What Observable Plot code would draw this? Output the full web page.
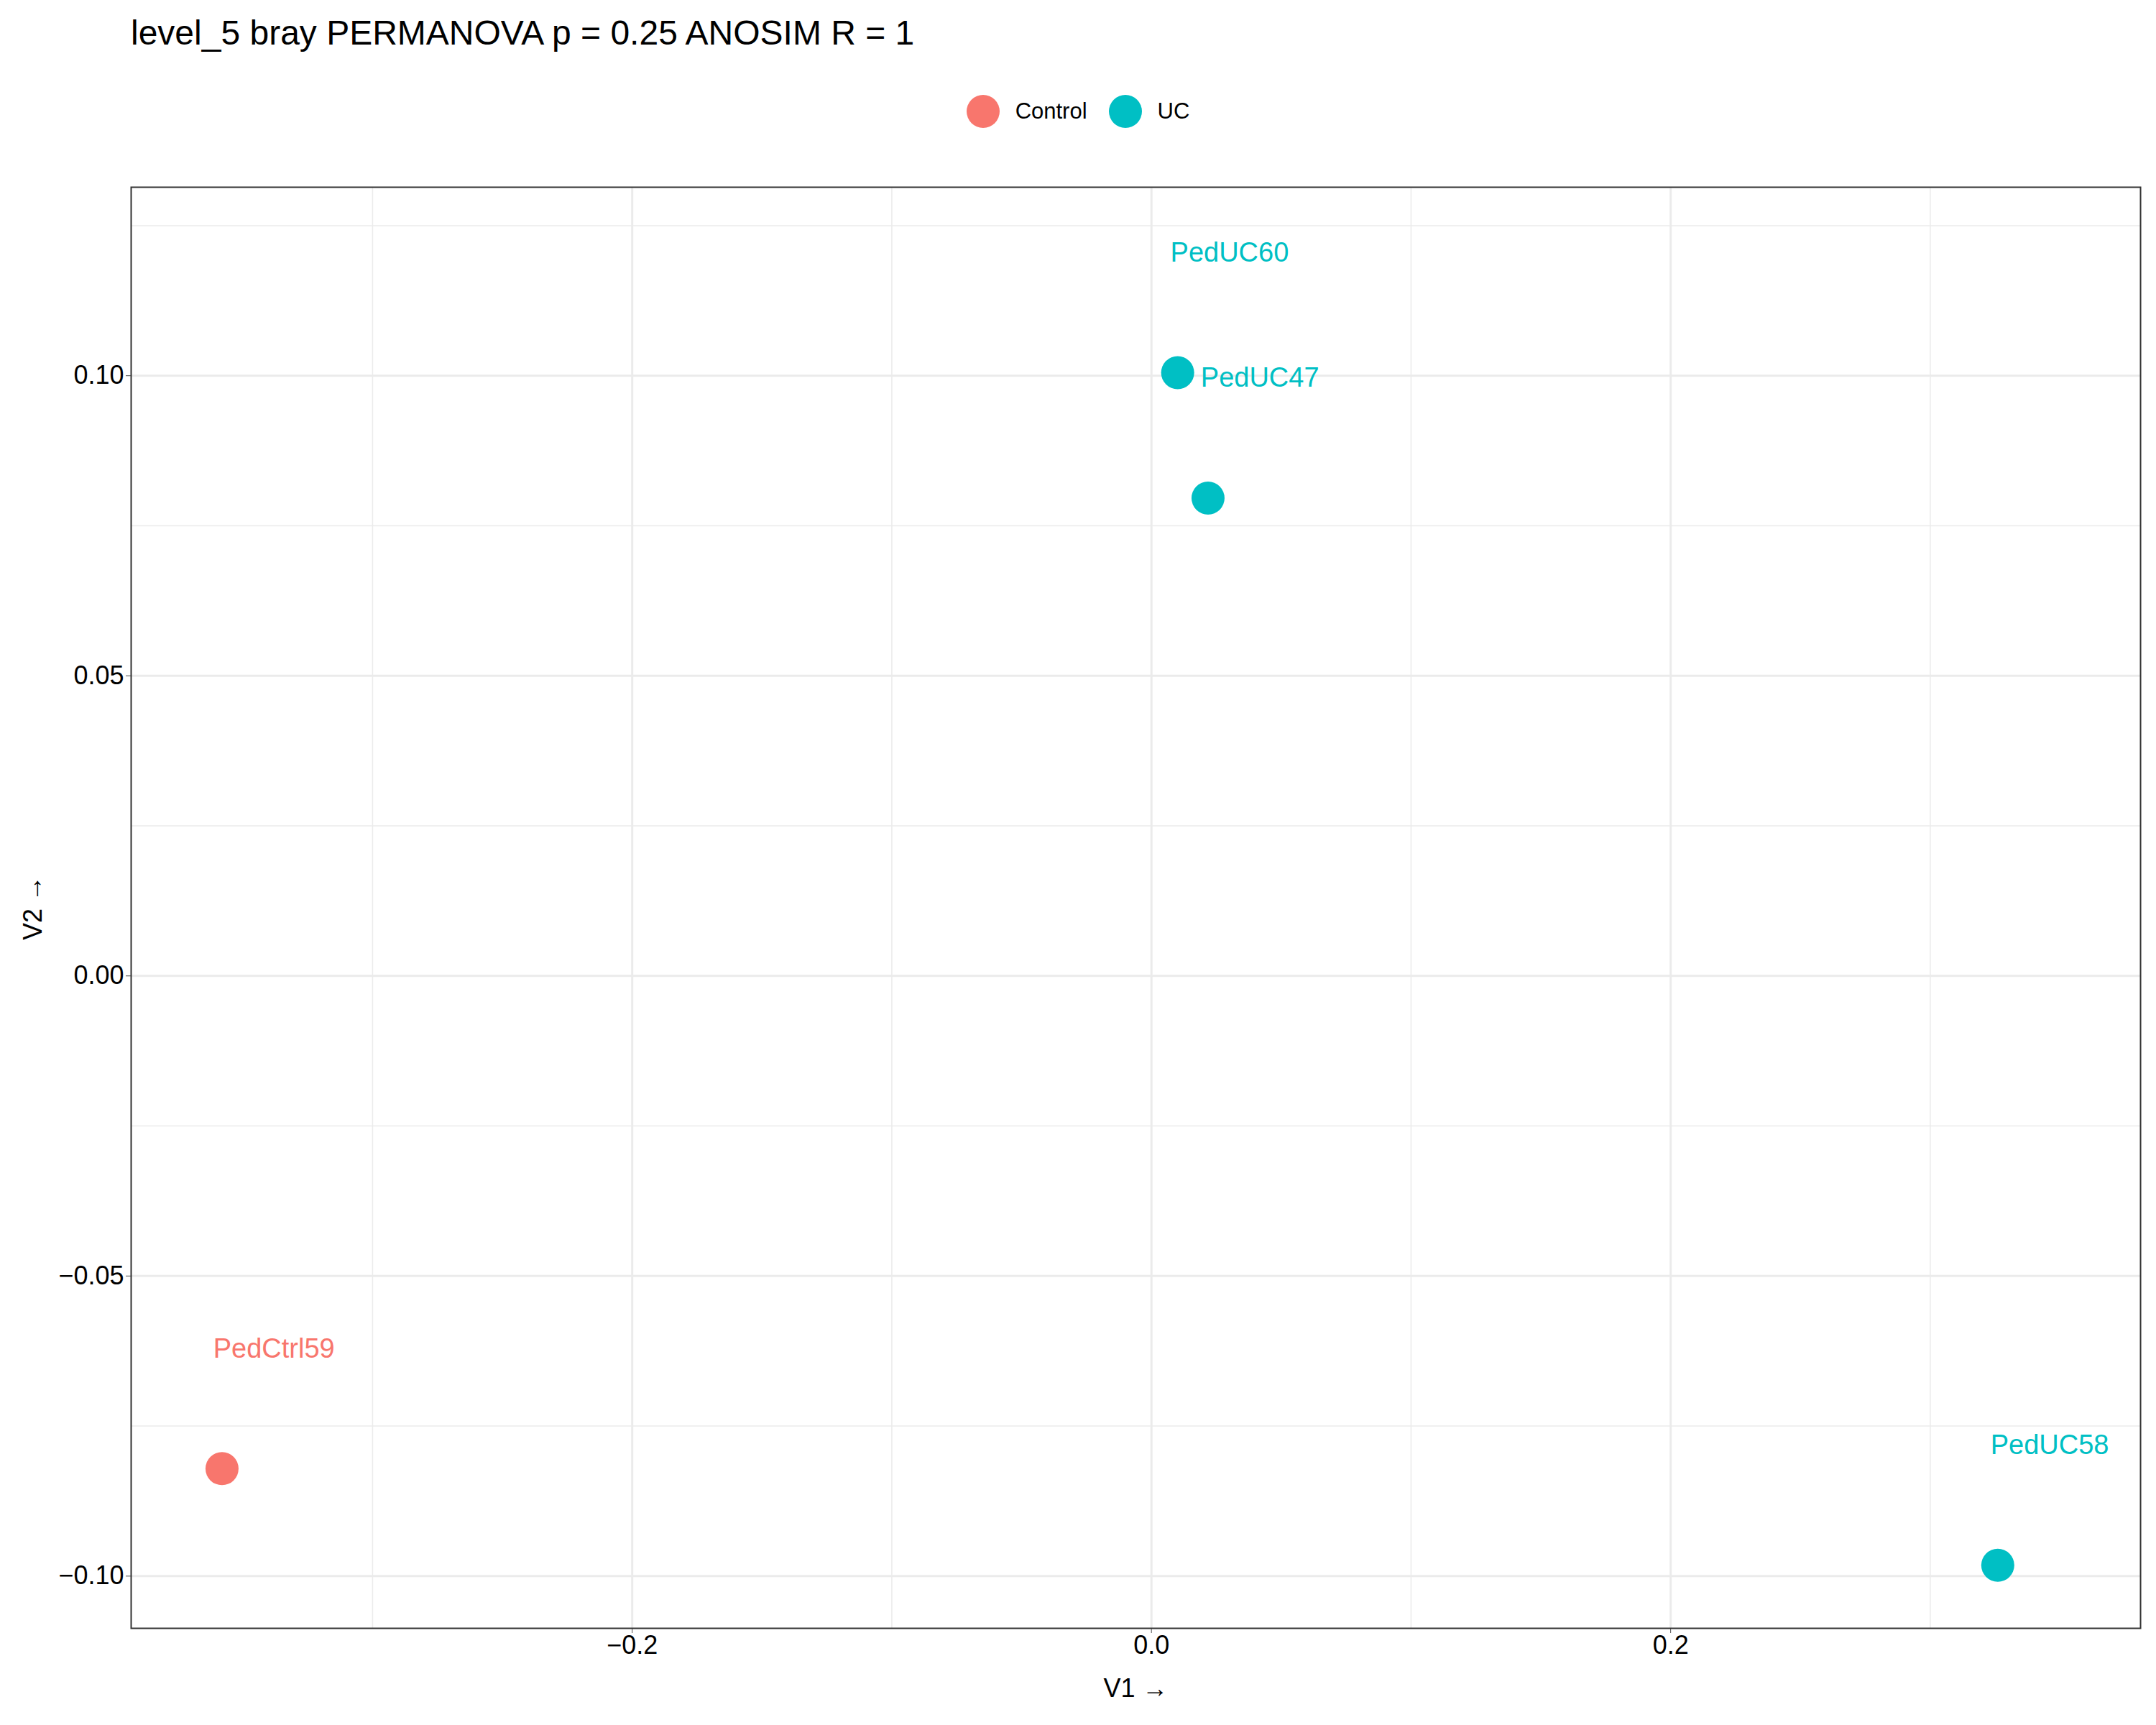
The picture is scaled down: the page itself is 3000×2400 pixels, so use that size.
<!DOCTYPE html>
<html>
<head>
<meta charset="utf-8">
<script src="https://cdn.jsdelivr.net/npm/d3@7"></script>
<script src="https://cdn.jsdelivr.net/npm/@observablehq/plot@0.6"></script>
<style>
body { margin: 0; background: white; font-family: "Liberation Sans", Arial, sans-serif; }
#wrap { width: 3000px; height: 2400px; position: relative; }
#title { position: absolute; left: 182px; top: 18px; font-size: 48px; color: #000; }
#legend { position: absolute; top: 132px; left: 0; width: 3000px; display: flex; justify-content: center; gap: 30px; font-size: 31px; }
#legend span { display: flex; align-items: center; gap: 22px; }
#legend i { display: inline-block; width: 46px; height: 46px; border-radius: 50%; }
#chart { position: absolute; top: 230px; left: 0; }
</style>
</head>
<body>
<div id="wrap">
  <div id="title">level_5 bray PERMANOVA p = 0.25 ANOSIM R = 1</div>
  <div id="legend"></div>
  <div id="chart"></div>
</div>
<script>
const samples = ["PedCtrl59", "PedUC60", "PedUC47", "PedUC58"]
const groups = ["Control", "UC", "UC", "UC"]
const v1 = [-0.358, 0.0101, 0.0218, 0.326]
const v2 = [-0.0821, 0.1005, 0.0796, -0.0982]
const groupNames = ["Control", "UC"]
const groupColors = ["#F8766D", "#00BFC4"]
const xTicks = [-0.2, 0.0, 0.2]
const xMinor = [-0.3, -0.1, 0.1, 0.3]
const yTicks = [-0.10, -0.05, 0.00, 0.05, 0.10]
const yMinor = [-0.075, -0.025, 0.025, 0.075, 0.125]

const data = samples.map((s, i) => ({sample: s, group: groups[i], x: v1[i], y: v2[i]}))
const col = d3.scaleOrdinal(groupNames, groupColors)

d3.select('#legend').selectAll('span').data(groupNames).join('span')
  .html(g => `<i style="background:${col(g)}"></i>${g}`)

let chart = Plot.plot({
  width: 3000,
  height: 2170,
  marginLeft: 182,
  marginRight: 22,
  marginTop: 30,
  marginBottom: 135,
  style: {fontFamily: "Liberation Sans, Arial, sans-serif", fontSize: "27px", color: "#4D4D4D"},
  x: {domain: [-0.393, 0.381], ticks: xTicks, tickFormat: d3.format(".1f"), label: "V1", labelAnchor: "center", labelOffset: 95, tickSize: 7},
  y: {domain: [-0.1087, 0.1314], ticks: yTicks, tickFormat: d3.format(".2f"), label: "V2", labelAnchor: "center", labelOffset: 150, tickSize: 7},
  marks: [
    Plot.ruleX(xMinor, {stroke: "#EBEBEB", strokeWidth: 1.5}),
    Plot.ruleY(yMinor, {stroke: "#EBEBEB", strokeWidth: 1.5}),
    Plot.ruleX(xTicks, {stroke: "#EBEBEB", strokeWidth: 3}),
    Plot.ruleY(yTicks, {stroke: "#EBEBEB", strokeWidth: 3}),
    Plot.frame({stroke: "#333333", strokeWidth: 2}),
    Plot.dot(data, {x: "x", y: "y", r: 23, fill: d => col(d.group)}),
    Plot.text(data, {x: d => d.x + 0.02, y: d => d.y + 0.02, text: "sample", fill: d => col(d.group), fontSize: 38})
  ]
})
d3.select('#chart').append(() => chart)
d3.select(chart).selectAll('[aria-label$="label"] text').style('font-size', '36px').style('fill', '#000')
</script>
</body>
</html>
